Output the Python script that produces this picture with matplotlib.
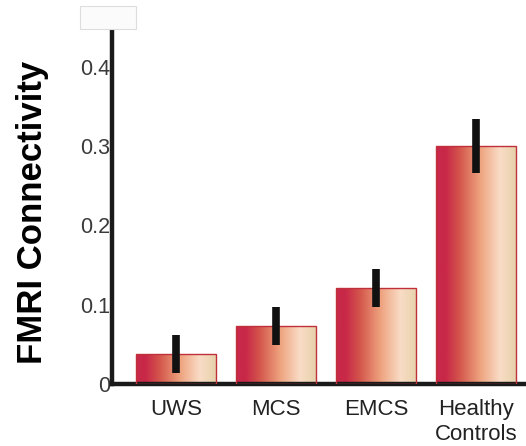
import numpy as np
import matplotlib
matplotlib.use("Agg")
import matplotlib.pyplot as plt
from matplotlib.colors import LinearSegmentedColormap
from matplotlib.patches import Rectangle

groups = ["UWS", "MCS", "EMCS", "Healthy\nControls"]
connectivity = [0.038, 0.073, 0.121, 0.300]
errors = [0.024, 0.024, 0.024, 0.034]
yticks = [0, 0.1, 0.2, 0.3, 0.4]
ytick_labels = ["0", "0.1", "0.2", "0.3", "0.4"]

plt.rcParams["font.family"] = ["Liberation Sans", "DejaVu Sans"]

# crimson -> coral -> peach -> tan, left to right across each bar
bar_cmap = LinearSegmentedColormap.from_list(
    "bar_grad",
    [(0.0, "#c8284a"), (0.12, "#c92848"), (0.3, "#d4574c"),
     (0.55, "#eea27e"), (0.8, "#f9dcc6"), (1.0, "#e6d2aa")])

fig = plt.figure(figsize=(5.26, 4.46), dpi=100)
ax = fig.add_axes([112 / 526, 62 / 446, 414 / 526, 361 / 446])

x = np.arange(len(groups))
bars = ax.bar(x, connectivity, width=0.8, color="none",
              edgecolor="#c0303a", linewidth=1.0, zorder=3)

grad = np.linspace(0, 1, 256).reshape(1, -1)
for b in bars:
    x0, y0 = b.get_x(), b.get_y()
    w, h = b.get_width(), b.get_height()
    im = ax.imshow(grad, cmap=bar_cmap, extent=[x0, x0 + w, y0, y0 + h],
                   aspect="auto", zorder=2)
    im.set_clip_path(b)

ax.errorbar(x, connectivity, yerr=errors, fmt="none", ecolor="#111111",
            elinewidth=5.5, capsize=0, zorder=4)

ax.set_xlim(-0.64, 3.5)
ax.set_ylim(0, 0.455)

for side in ["top", "right"]:
    ax.spines[side].set_visible(False)
for side in ["left", "bottom"]:
    ax.spines[side].set_linewidth(3.2)
    ax.spines[side].set_color("#1a1a1a")

ax.set_yticks(yticks)
ax.set_yticklabels(ytick_labels, fontsize=15.5, color="#3a3a3a")
ax.set_xticks(x)
ax.set_xticklabels(groups, fontsize=16, color="#222222", linespacing=1.25,
                   va="top")
ax.tick_params(axis="y", length=0, pad=1)
ax.tick_params(axis="x", length=0, pad=11)

fig.text(33 / 526, 1 - 212 / 446, "FMRI Connectivity", rotation=90,
         fontsize=25, fontweight="bold", ha="center", va="center")

# faint empty box above the axis
fig.patches.append(Rectangle((80 / 526, 1 - 29 / 446), 56 / 526, 23 / 446,
                             transform=fig.transFigure, facecolor="#fbfbfb",
                             edgecolor="#dddddd", linewidth=0.8))

fig.savefig("out.png", dpi=100)
